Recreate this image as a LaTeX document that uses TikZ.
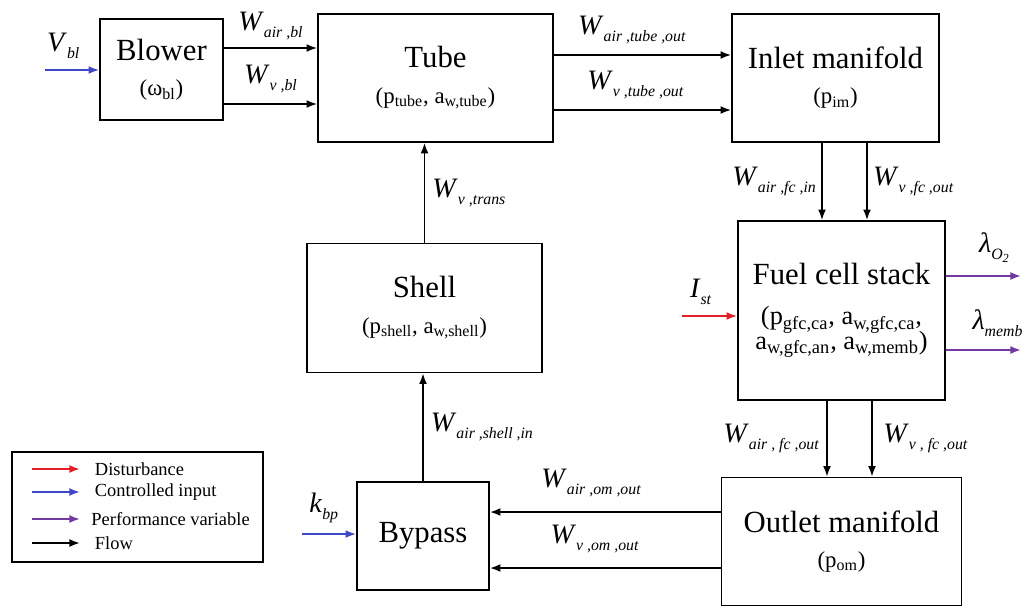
\documentclass[tikz,border=0pt]{standalone}
\usepackage{fontspec}
\setmainfont{Liberation Serif}
\usetikzlibrary{arrows.meta, positioning, calc}

\definecolor{distred}{RGB}{228,32,38}
\definecolor{ctrlblue}{RGB}{64,72,200}
\definecolor{perfpurple}{RGB}{112,58,160}

\newcommand{\lsub}[1]{\raisebox{-4pt}{\fontsize{9}{10}\selectfont\textit{#1}}}
\newcommand{\flw}[1]{\textit{W}\lsub{#1}}
\newcommand{\prm}[1]{{\fontsize{13}{20}\selectfont #1}}
\newcommand{\fprm}[1]{{\fontsize{15}{20}\selectfont #1}}

\tikzset{
  box/.style={draw, line width=1pt, align=center, inner sep=2pt, font=\fontsize{17.5}{20}\selectfont},
  flow/.style={-{Latex[length=6pt,width=4.5pt]}, line width=1pt},
  dist/.style={flow, distred},
  ctrl/.style={flow, ctrlblue},
  perf/.style={flow, perfpurple},
  lbl/.style={font=\fontsize{16}{18}\selectfont, inner sep=2pt, text=black},
  legtxt/.style={font=\fontsize{10.5}{12}\selectfont, anchor=west, inner sep=0pt, text=black}
}

\begin{document}
\begin{tikzpicture}
    \useasboundingbox (0,0) rectangle (20.46,-12.14);
    % blocks
    \node[box, minimum width=2.46cm, minimum height=2.02cm] (blower) at (3.23,-1.39) {Blower\\\prm{(ω\textsubscript{bl})}};
    \node[box, minimum width=4.70cm, minimum height=2.56cm] (tube) at (8.71,-1.56) {Tube\\\prm{(p\textsubscript{tube}, a\textsubscript{w,tube})}};
    \node[box, minimum width=4.14cm, minimum height=2.56cm] (inlet) at (16.71,-1.56) {Inlet manifold\\\prm{(p\textsubscript{im})}};
    \node[box, minimum width=4.14cm, minimum height=3.58cm] (fcs) at (16.83,-6.21) {Fuel cell stack\\[3pt]\fprm{(p\textsubscript{gfc,ca}, a\textsubscript{w,gfc,ca},}\\[-6pt]\fprm{a\textsubscript{w,gfc,an}, a\textsubscript{w,memb})}};
    \node[box, minimum width=4.70cm, minimum height=2.58cm] (shell) at (8.49,-6.16) {Shell\\\prm{(p\textsubscript{shell}, a\textsubscript{w,shell})}};
    \node[box, minimum width=2.64cm, minimum height=2.16cm] (bypass) at (8.46,-10.72) {Bypass};
    \node[box, minimum width=4.80cm, minimum height=2.56cm] (outlet) at (16.83,-10.83) {Outlet manifold\\\prm{(p\textsubscript{om})}};

    % inputs and outputs
    \coordinate (vbl) at (0.9,-1.4);
    \coordinate (ist) at (13.64,-6.32);
    \coordinate (kbp) at (6.04,-10.68);
    \draw[ctrl] (vbl) -- (vbl -| blower.west) node[lbl, midway, above=4pt, xshift=-5pt]{\textit{V}\lsub{bl}};
    \draw[dist] (ist) -- (ist -| fcs.west) node[lbl, midway, above=4pt, xshift=-5pt]{\textit{I}\lsub{st}};
    \draw[ctrl] (kbp) -- (kbp -| bypass.west) node[lbl, midway, above=4pt, xshift=-3pt]{\textit{k}\lsub{bp}};
    \draw[perf] ([yshift=6.9mm]fcs.east) coordinate (o1) -- (o1 -| 20.42,0) node[lbl, midway, above=5pt, xshift=6pt]{\textit{λ}\lsub{O\raisebox{-2pt}{\fontsize{7}{8}\selectfont 2}}};
    \draw[perf] ([yshift=-7.9mm]fcs.east) coordinate (o2) -- (o2 -| 20.42,0) node[lbl, midway, above=5pt, xshift=8pt]{\textit{λ}\lsub{memb}};

    % flows
    \draw[flow] ([yshift=4.3mm]blower.east) coordinate (b1) -- (b1 -| tube.west) node[lbl, midway, above=2pt]{\flw{air ,bl}};
    \draw[flow] ([yshift=-6.9mm]blower.east) coordinate (b2) -- (b2 -| tube.west) node[lbl, midway, above=4pt]{\flw{v ,bl}};
    \draw[flow] ([yshift=4.6mm]tube.east) coordinate (t1) -- (t1 -| inlet.west) node[lbl, midway, above=4pt, xshift=-6pt]{\flw{air ,tube ,out}};
    \draw[flow] ([yshift=-6.4mm]tube.east) coordinate (t2) -- (t2 -| inlet.west) node[lbl, midway, above=4pt, xshift=-4pt]{\flw{v ,tube ,out}};
    \draw[flow] ([xshift=-2.7mm]inlet.south) coordinate (i1) -- (i1 |- fcs.north) node[lbl, midway, left=1pt]{\flw{air ,fc ,in}};
    \draw[flow] ([xshift=6.3mm]inlet.south) coordinate (i2) -- (i2 |- fcs.north) node[lbl, midway, right=1pt]{\flw{v ,fc ,out}};
    \draw[flow] ([xshift=-2.9mm]fcs.south) coordinate (f1) -- (f1 |- outlet.north) node[lbl, midway, left=2pt]{\flw{air , fc ,out}};
    \draw[flow] ([xshift=6.1mm]fcs.south) coordinate (f2) -- (f2 |- outlet.north) node[lbl, midway, right=4pt]{\flw{v , fc ,out}};
    \draw[flow] ([yshift=5.9mm]outlet.west) coordinate (m1) -- (m1 -| bypass.east) node[lbl, midway, above=6pt, xshift=-8pt]{\flw{air ,om ,out}};
    \draw[flow] ([yshift=-5.3mm]outlet.west) coordinate (m2) -- (m2 -| bypass.east) node[lbl, midway, above=6pt, xshift=-6pt]{\flw{v ,om ,out}};
    \draw[flow] (bypass.north) -- (bypass.north |- shell.south) node[lbl, midway, right=2pt]{\flw{air ,shell ,in}};
    \draw[flow] (shell.north) -- (shell.north |- tube.south) node[lbl, midway, right=2pt]{\flw{v ,trans}};

    % legend
    \node[draw, line width=1pt, minimum width=5.02cm, minimum height=2.20cm] (legend) at (2.75,-10.14) {};
    \draw[dist] (0.64,-9.38) -- ++(0.96,0) node[legtxt, xshift=8pt] (lgdist) {Disturbance};
    \draw[ctrl] (0.64,-9.84) -- ++(0.96,0) node[legtxt, xshift=8pt] (lgctrl) {Controlled input};
    \draw[perf] (0.64,-10.38) -- ++(0.96,0) node[legtxt, xshift=6pt] (lgperf) {Performance variable};
    \draw[flow] (0.64,-10.86) -- ++(0.96,0) node[legtxt, xshift=8pt] (lgflow) {Flow};
\end{tikzpicture}
\end{document}
